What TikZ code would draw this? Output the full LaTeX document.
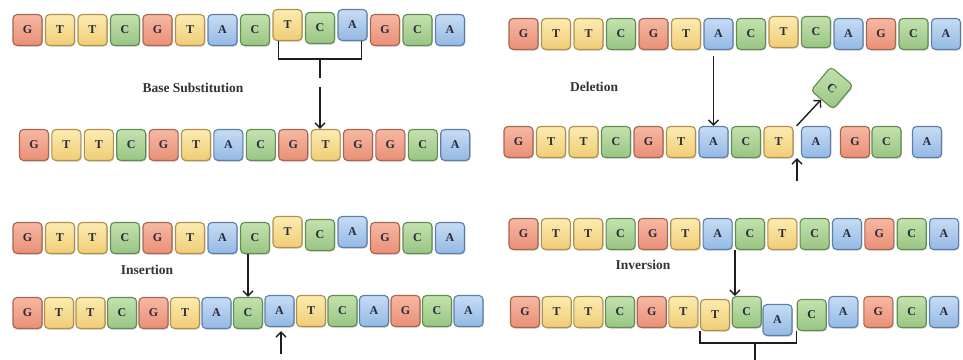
\documentclass[tikz,border=0pt]{standalone}
\usepackage{fontspec}
\setmainfont{Liberation Serif}
\usetikzlibrary{arrows.meta,shadows}

% base colours: top, bottom, edge
\definecolor{gtop}{HTML}{F7B8A2}
\definecolor{gbot}{HTML}{E98F77}
\definecolor{gedge}{HTML}{A8654F}
\definecolor{ttop}{HTML}{FCEBB0}
\definecolor{tbot}{HTML}{F0CD76}
\definecolor{tedge}{HTML}{B0904A}
\definecolor{ctop}{HTML}{C4E2AE}
\definecolor{cbot}{HTML}{98C583}
\definecolor{cedge}{HTML}{628C52}
\definecolor{atop}{HTML}{C6DCF4}
\definecolor{abot}{HTML}{93B9E4}
\definecolor{aedge}{HTML}{5D7EAA}
\definecolor{basetext}{HTML}{2A2A38}
\definecolor{linecol}{HTML}{1E1E1E}

\tikzset{
  tile/.style={rectangle,rounded corners=4pt,minimum width=29pt,minimum height=31pt,
    inner sep=0pt,line width=1.1pt,text=basetext,font=\bfseries\fontsize{12}{12}\selectfont,
    drop shadow={shadow xshift=0.8pt,shadow yshift=-1pt,opacity=0.3,fill=black!70}},
  bG/.style={draw=gedge,top color=gtop,bottom color=gbot},
  bT/.style={draw=tedge,top color=ttop,bottom color=tbot},
  bC/.style={draw=cedge,top color=ctop,bottom color=cbot},
  bA/.style={draw=aedge,top color=atop,bottom color=abot},
  kind/.style={text=black!80,font=\bfseries\fontsize{13.5}{15}\selectfont},
  arr/.style={->,line width=1.4pt,draw=linecol},
  bracket/.style={line width=1.4pt,draw=linecol},
}

\begin{document}
\begin{tikzpicture}[x=1pt,y=-1pt,>={Straight Barb[length=5pt,width=10pt]}]
\useasboundingbox (0,0) rectangle (963,359);

% base substitution
\foreach \b/\d [count=\i] in {G/0,T/0,T/0,C/0,G/0,T/0,A/0,C/0,T/-5,C/-2,A/-5,G/0,C/0,A/0}
  \node[tile,b\b] (r1-\i) at ({27.5+32.5*(\i-1)},{30+\d}) {\b};
\foreach \b [count=\i] in {G,T,T,C,G,T,A,C,G,T,G,G,C,A}
  \node[tile,b\b] (r2-\i) at ({34+32.4*(\i-1)},145) {\b};
\node[kind] (subst) at (193,88) {Base Substitution};
\coordinate (sub) at (320,59);
\draw[bracket] ([xshift=6pt]r1-9.south west) |- (sub) -| ([xshift=-6pt]r1-11.south east);
\draw[bracket] (sub) -- ++(0,19);
\draw[arr] ([yshift=-28pt]sub) -- (sub |- r2-10.north);

% deletion
\foreach \b/\d [count=\i] in {G/0,T/0,T/0,C/0,G/0,T/0,A/0,C/0,T/-2,C/-2,A/0,G/0,C/0,A/0}
  \node[tile,b\b] (r3-\i) at ({523.5+32.5*(\i-1)},{34+\d}) {\b};
\foreach \b/\x [count=\i] in {G/518.5,T/551,T/583.5,C/616,G/648.5,T/681,A/713.5,C/746,T/778.5,A/816,G/855,C/886.5,A/927}
  \node[tile,b\b] (r4-\i) at (\x,142) {\b};
\node[kind] (del) at (594,87) {Deletion};
\node[tile,bC,rotate=-40] (gone) at (832,88) {C};
\draw[arr,shorten <=6pt] (r4-7.north |- r3-7.south) -- (r4-7.north);
\draw[arr] ([xshift=3pt]r4-9.north east) -- (gone);
\coordinate (gap) at (797,181);
\draw[arr] (gap) -- (gap |- r4-9.south);

% insertion
\foreach \b/\d [count=\i] in {G/0,T/0,T/0,C/0,G/0,T/0,A/0,C/0,T/-6,C/-3,A/-6,G/0,C/0,A/0}
  \node[tile,b\b] (r5-\i) at ({27.5+32.5*(\i-1)},{238+\d}) {\b};
\foreach \b [count=\i] in {G,T,T,C,G,T,A,C,A,T,C,A,G,C,A}
  \node[tile,b\b] (r6-\i) at ({27.5+31.5*(\i-1)},{ifthenelse(\i<9,313,311)}) {\b};
\node[kind] (ins) at (147,270) {Insertion};
\draw[arr] (r6-8.north |- r5-8.south) -- (r6-8.north);
\coordinate (add) at (281,354);
\draw[arr,shorten >=4pt] (add) -- (add |- r6-9.south);

% inversion
\foreach \b [count=\i] in {G,T,T,C,G,T,A,C,T,C,A,G,C,A}
  \node[tile,b\b] (r7-\i) at ({523.5+32.35*(\i-1)},234) {\b};
\foreach \b/\x/\d [count=\i] in {G/525/0,T/556.7/0,T/588.3/0,C/620/0,G/651.7/0,T/683.3/0,T/715/3,C/746.7/0,A/777.5/8,C/811.7/3,A/843.3/0,G/878.3/0,C/911.7/0,A/944/0}
  \node[tile,b\b] (r8-\i) at (\x,{312+\d}) {\b};
\node[kind] (inv) at (643,265) {Inversion};
\draw[arr] (r7-8.south west) -- (r7-8.south west |- r8-8.north);
\coordinate (flip) at (755,343);
\draw[bracket] (r8-7.south west) |- (flip) -| (r8-10.south west);
\draw[bracket] (flip) -- ++(0,17);
\end{tikzpicture}
\end{document}
